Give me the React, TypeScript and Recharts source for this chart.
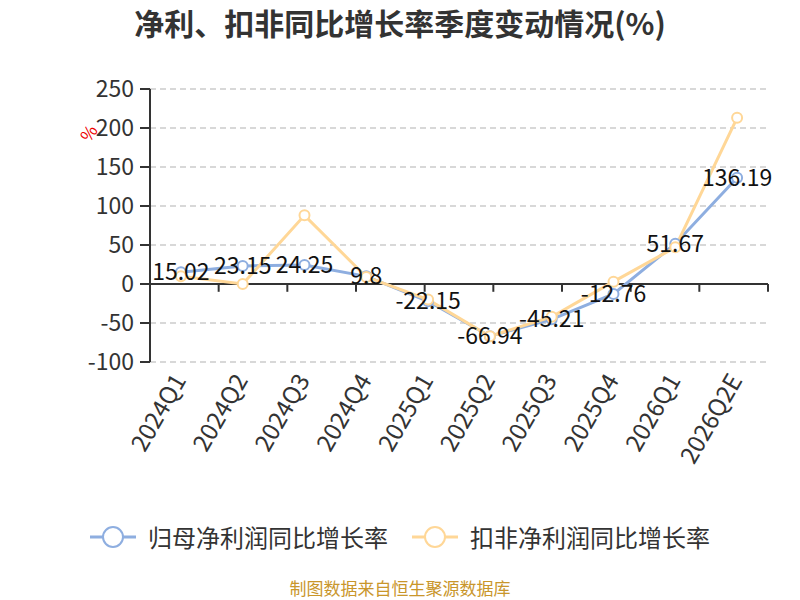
import { CartesianGrid, LabelList, Line, LineChart, ReferenceLine, XAxis, YAxis } from "recharts";

const quarters = ["2024Q1", "2024Q2", "2024Q3", "2024Q4", "2025Q1", "2025Q2", "2025Q3", "2025Q4", "2026Q1", "2026Q2E"];
const parentNetGrowth = [15.02, 23.15, 24.25, 9.8, -22.15, -66.94, -45.21, -12.76, 51.67, 136.19];
const deductedNetGrowth = [10, 0, 88, 9, -20, -67, -42, 3, 47, 213];
const yTicks = [-100, -50, 0, 50, 100, 150, 200, 250];
const boundaryTicks = [0, 1, 2, 3, 4, 5, 6, 7, 8, 9, 10];

const BLUE = "#8EAEE0";
const ORANGE = "#FFD797";
const FONT = "'Noto Sans CJK SC', 'Noto Sans', sans-serif";

const data = quarters.map((q, i) => ({
  quarter: q,
  parent: parentNetGrowth[i],
  deducted: deductedNetGrowth[i],
}));

function RotatedTick({ x, y, payload }: { x?: number; y?: number; payload?: { value: string } }) {
  const ax = (x ?? 0) - 3;
  const ay = (y ?? 0) + 5;
  return (
    <text
      x={ax}
      y={ay}
      transform={`rotate(-60 ${ax} ${ay})`}
      textAnchor="end"
      dominantBaseline="central"
      fontSize={24}
      fill="#333"
      fontFamily={FONT}
    >
      {payload?.value}
    </text>
  );
}

function ValueLabel(props: { x?: number; y?: number; value?: number }) {
  const { x, y, value } = props;
  return (
    <text x={x} y={(y ?? 0) - 2} textAnchor="middle" dominantBaseline="central" fontSize={23} fill="#111" fontFamily={FONT}>
      {value}
    </text>
  );
}

function LegendBar() {
  const items = [
    { name: "归母净利润同比增长率", color: BLUE },
    { name: "扣非净利润同比增长率", color: ORANGE },
  ];
  return (
    <div style={{ position: "absolute", top: 523, width: 800, display: "flex", justifyContent: "center", gap: 24 }}>
      {items.map((it) => (
        <div key={it.name} style={{ display: "flex", alignItems: "center" }}>
          <svg width={46} height={28}>
            <line x1={0} y1={14} x2={46} y2={14} stroke={it.color} strokeWidth={3} />
            <circle cx={23} cy={14} r={10} fill="#fff" stroke={it.color} strokeWidth={2} />
          </svg>
          <span style={{ fontSize: 24, color: "#333", marginLeft: 12, lineHeight: "28px" }}>{it.name}</span>
        </div>
      ))}
    </div>
  );
}

export default function App() {
  return (
    <div style={{ position: "absolute", left: 0, top: 0, width: 800, height: 600, background: "#fff", fontFamily: FONT }}>
      <div style={{ position: "absolute", top: 2, width: 800, textAlign: "center", fontSize: 30, lineHeight: "40px", fontWeight: 700, color: "#333" }}>
        净利、扣非同比增长率季度变动情况(%)
      </div>
      <div style={{ position: "absolute", left: 80, top: 120, fontSize: 17, color: "#e00", transform: "rotate(-55deg)" }}>%</div>
      <LineChart width={800} height={600} data={data} margin={{ top: 89, right: 32, bottom: 138, left: 82 }}>
        <CartesianGrid horizontal vertical={false} stroke="#ccc" strokeDasharray="6 4" strokeWidth={1.5} />
        <XAxis dataKey="quarter" scale="band" axisLine={false} tickLine={false} height={100} interval={0} tick={<RotatedTick />} />
        <XAxis xAxisId="edge" type="number" domain={[0, 10]} ticks={boundaryTicks} hide />
        <YAxis
          domain={[-100, 250]}
          ticks={yTicks}
          width={68}
          axisLine={{ stroke: "#333", strokeWidth: 2 }}
          tickLine={{ stroke: "#333", strokeWidth: 2 }}
          tickSize={10}
          tickMargin={6}
          tick={{ fontSize: 23, fill: "#333", fontFamily: FONT }}
        />
        <ReferenceLine y={0} stroke="#333" strokeWidth={2} />
        {boundaryTicks.slice(1).map((t) => (
          <ReferenceLine
            key={t}
            xAxisId="edge"
            segment={[
              { x: t, y: 0 },
              { x: t, y: -10 },
            ]}
            stroke="#333"
            strokeWidth={2}
          />
        ))}
        <Line
          name="归母净利润同比增长率"
          dataKey="parent"
          stroke={BLUE}
          strokeWidth={3}
          dot={{ r: 5, fill: "#fff", stroke: BLUE, strokeWidth: 2 }}
          isAnimationActive={false}
        >
          <LabelList dataKey="parent" content={<ValueLabel />} />
        </Line>
        <Line
          name="扣非净利润同比增长率"
          dataKey="deducted"
          stroke={ORANGE}
          strokeWidth={3}
          dot={{ r: 5, fill: "#fff", stroke: ORANGE, strokeWidth: 2 }}
          isAnimationActive={false}
        />
      </LineChart>
      <LegendBar />
      <div style={{ position: "absolute", top: 578, width: 800, textAlign: "center", fontSize: 17, lineHeight: "19px", color: "#C9962B" }}>
        制图数据来自恒生聚源数据库
      </div>
    </div>
  );
}
